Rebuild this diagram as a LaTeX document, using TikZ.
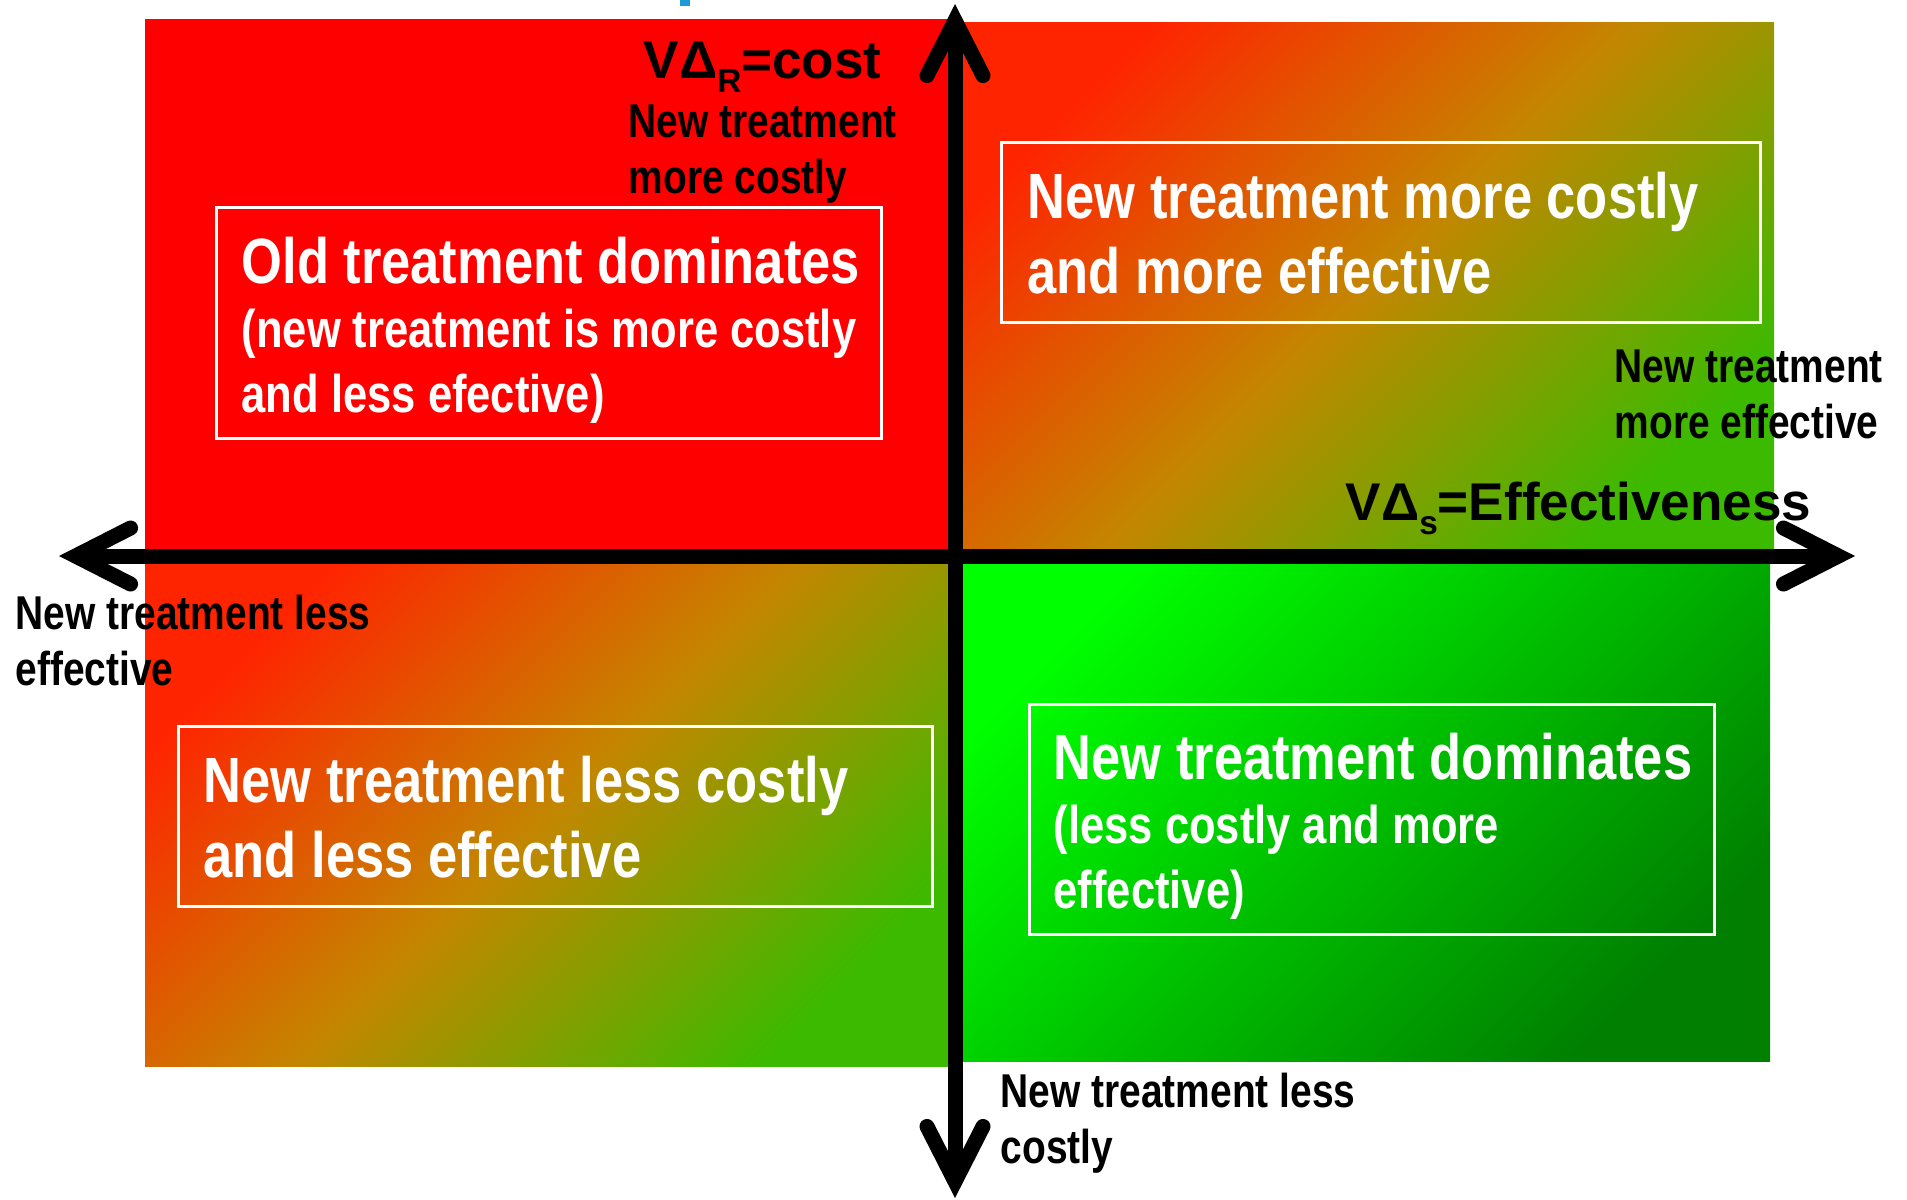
\documentclass[tikz,border=0pt]{standalone}
\usepackage{fontspec}
\setmainfont{Liberation Sans}[FakeStretch=0.82]
\newfontfamily\axisfont{Liberation Sans}
\usetikzlibrary{arrows.meta}

\definecolor{hotred}{HTML}{FF0000}
\definecolor{mixred}{HTML}{FF2400}
\definecolor{mixmid}{HTML}{C48600}
\definecolor{mixgreen}{HTML}{3CBA00}
\definecolor{litegreen}{HTML}{00FF00}
\definecolor{midgreen}{HTML}{00BE00}
\definecolor{darkgreen}{HTML}{007F00}
\definecolor{tickblue}{HTML}{1B9AD6}

\def \axisWidth {0.15cm}
\def \frameWidth {0.03cm}
\newcommand\lowsub[1]{\raisebox{-4pt}{\fontsize{9.5}{9.5}\selectfont #1}}

\tikzset{
  quadmix/.style={top color=mixred, bottom color=mixgreen, middle color=mixmid, shading angle=45},
  quadgood/.style={top color=litegreen, bottom color=darkgreen, middle color=midgreen, shading angle=45},
  boxframe/.style={draw=white, line width=\frameWidth},
  boxtext/.style={anchor=base west, inner sep=0pt, align=left, text=white, font=\bfseries\fontsize{18.2}{21.3}\selectfont},
  axislabel/.style={anchor=base west, inner sep=0pt, align=left, font=\bfseries\fontsize{13.5}{15.9}\selectfont},
  axistitle/.style={anchor=base west, inner sep=0pt, font=\axisfont\bfseries\fontsize{15.1}{15.1}\selectfont},
  barb/.tip={Straight Barb[length=0.55cm, width=0.56cm, line cap=round, line join=miter]},
  axisline/.style={line width=\axisWidth, barb-barb}
}

\begin{document}
\begin{tikzpicture}[x=0.01cm, y=-0.01cm]
  \useasboundingbox (0,0) rectangle (1907,1199);
  % quadrants
  \fill[hotred] (145,19) rectangle (955,556);
  \shade[quadmix] (955,22) rectangle (1774,556);
  \shade[quadmix] (145,556) rectangle (955,1066);
  \shade[quadgood] (955,556) rectangle (1770,1061);
  \fill[tickblue] (680,0) rectangle (690,6);

  % frames
  \draw[boxframe] (216,207) rectangle (881,438);
  \draw[boxframe] (1001,142) rectangle (1760,322);
  \draw[boxframe] (178,726) rectangle (932,906);
  \draw[boxframe] (1029,704) rectangle (1714,934);

  % multi-line texts sit on their last baseline
  \node[boxtext, font=\bfseries\fontsize{15.1}{18.3}\selectfont] (olddom) at (241,412)
    {{\fontsize{18.2}{18.3}\selectfont Old treatment dominates}\\(new treatment is more costly\\and less efective)};
  \node[boxtext] (costeff) at (1027,293) {New treatment more costly\\and more effective};
  \node[boxtext] (cheapweak) at (203,877) {New treatment less costly\\and less effective};
  \node[boxtext, font=\bfseries\fontsize{15.1}{18.3}\selectfont] (newdom) at (1053,908)
    {{\fontsize{18.2}{18.3}\selectfont New treatment dominates}\\(less costly and more\\effective)};

  % axes
  \coordinate (effleft) at (59,556);
  \coordinate (effright) at (1855,556);
  \coordinate (costtop) at (955,4);
  \coordinate (costbottom) at (955,1198);
  \draw[axisline] (effleft) -- (effright);
  \draw[axisline] (costbottom) -- (costtop);

  \node[axistitle] (costtitle) at (643,78) {VΔ\lowsub{R}=cost};
  \node[axistitle] (efftitle) at (1345,520) {VΔ\lowsub{s}=Effectiveness};
  \node[axislabel] (costmore) at (628,193) {New treatment\\more costly};
  \node[axislabel] (effmore) at (1614,438) {New treatment\\more effective};
  \node[axislabel] (effless) at (15,685) {New treatment less\\effective};
  \node[axislabel] (costless) at (1000,1163) {New treatment less\\costly};
\end{tikzpicture}
\end{document}
